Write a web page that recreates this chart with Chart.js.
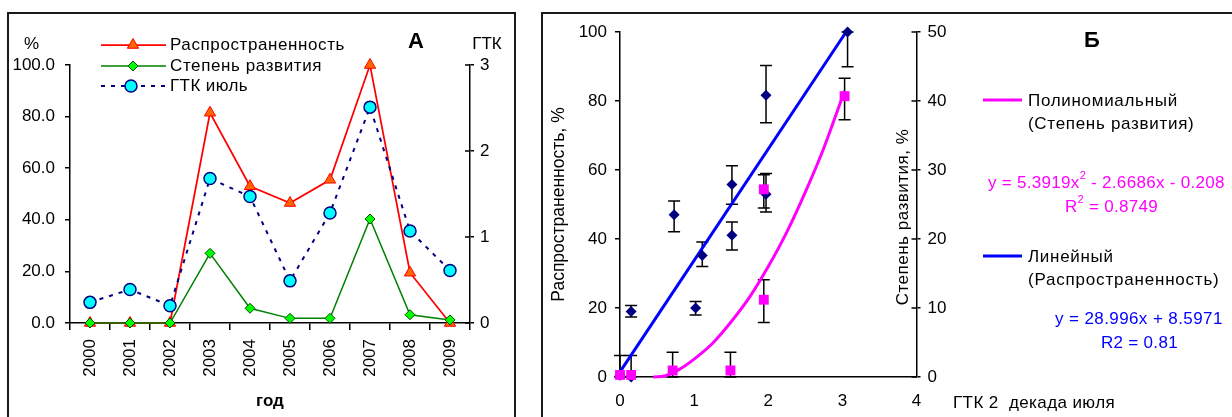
<!DOCTYPE html>
<html><head><meta charset="utf-8">
<script src="https://cdn.jsdelivr.net/npm/chart.js@4.4.0/dist/chart.umd.min.js"></script>
<style>
html,body{margin:0;padding:0;background:#fff;width:1232px;height:417px;overflow:hidden;}
.panel{position:absolute;border:2px solid #1a1a1a;box-sizing:border-box;}
#pa{left:7px;top:12px;width:509px;height:440px;}
#pb{left:541px;top:12px;width:720px;height:440px;}
#ca{position:absolute;left:0;top:0;width:530px;height:417px;}
#cb{position:absolute;left:530px;top:0;width:702px;height:417px;}
</style></head><body>
<div class="panel" id="pa"></div><div class="panel" id="pb"></div>
<canvas id="ca" width="530" height="417"></canvas>
<canvas id="cb" width="702" height="417"></canvas>
<script>
// ---------- Panel A data ----------
const years = ['2000','2001','2002','2003','2004','2005','2006','2007','2008','2009'];
const prevalence = [0, 0, 0, 81.5, 53, 46.5, 55.5, 100, 19.5, 0];
const severity = [0, 0, 0, 27, 5.7, 1.8, 1.8, 40.3, 3.2, 1.2];
const htcJuly = [0.24, 0.39, 0.2, 1.68, 1.47, 0.49, 1.28, 2.51, 1.07, 0.61];

// ---------- Panel B data ----------
const prevX  = [0, 0.15, 0.15, 0.73, 1.02, 1.11, 1.51, 1.51, 1.97, 1.97, 3.07];
const prevY  = [0.5, 0, 19, 47, 20, 35.2, 55.8, 41.1, 81.7, 53, 100];
const prevLo = [0, 0, 17.4, 42.1, 18, 32, 50.1, 36.8, 73.7, 47.8, 89.9];
const prevHi = [6.2, 6.2, 20.7, 51, 21.9, 39.1, 61.2, 44.9, 90.3, 59, 100];
const sevX  = [0, 0.15, 0.71, 1.49, 1.94, 1.94, 3.03];
const sevY  = [0.3, 0.3, 0.95, 0.95, 11.2, 27.2, 40.7];
const sevLo = [null, null, 0, 0, 7.9, 24.5, 37.3];
const sevHi = [null, null, 3.6, 3.6, 14.1, 29.3, 43.3];
const linTrendX = [0, 3.05];
const linTrendY = [1.5, 100];
const polyTrendX = [0.45, 0.6, 0.8, 1.0, 1.25, 1.5, 1.75, 2.0, 2.25, 2.5, 2.75, 3.03];
const polyTrendY = [0, 0.15, 1.1, 2.6, 4.9, 8.0, 11.6, 16.0, 21.0, 26.8, 33.2, 41.5];

const FONT = '"Liberation Sans", Arial, Helvetica, sans-serif';
Chart.defaults.font.family = FONT;
Chart.defaults.font.size = 17;
Chart.defaults.color = '#000';

function txt(ctx, s, x, y, o) {
  o = o || {};
  ctx.save();
  ctx.font = (o.bold ? 'bold ' : '') + (o.size || 17) + 'px ' + FONT;
  ctx.fillStyle = o.color || '#000';
  ctx.textAlign = o.align || 'left';
  ctx.textBaseline = 'middle';
  if ('letterSpacing' in ctx) ctx.letterSpacing = (o.ls || 0) + 'px';
  if (o.rot) { ctx.translate(x, y); ctx.rotate(o.rot); ctx.fillText(s, 0, 0); }
  else ctx.fillText(s, x, y);
  ctx.restore();
}
function supText(ctx, parts, x, y, color, ls) {
  ctx.save();
  if ('letterSpacing' in ctx) ctx.letterSpacing = (ls || 0) + 'px';
  let cx = x;
  parts.forEach(p => {
    ctx.font = (p[1] ? 11 : 17) + 'px ' + FONT;
    ctx.fillStyle = color; ctx.textAlign = 'left'; ctx.textBaseline = 'middle';
    ctx.fillText(p[0], cx, p[1] ? y - 7 : y);
    cx += ctx.measureText(p[0]).width;
  });
  ctx.restore();
}
function innerTicksOf(chart, id, len) {
  const s = chart.scales[id]; const ctx = chart.ctx;
  ctx.save(); ctx.strokeStyle = '#000'; ctx.lineWidth = 1.5;
  s.ticks.forEach(t => {
    const py = s.getPixelForValue(t.value);
    ctx.beginPath(); ctx.moveTo(s.left - len, py); ctx.lineTo(s.left, py); ctx.stroke();
  });
  ctx.restore();
}

// ---------- Chart A ----------
const decorA = {
  id: 'decorA',
  afterDraw(chart) {
    const ctx = chart.ctx;
    innerTicksOf(chart, 'y2', 5);
    txt(ctx, '%', 24, 44);
    txt(ctx, 'ГТК', 487, 44, {align: 'center'});
    txt(ctx, 'А', 416, 42, {bold: true, size: 22, align: 'center'});
    const lx1 = 101, lx2 = 166, mx = 133;
    ctx.save();
    ctx.lineWidth = 1.75; ctx.strokeStyle = '#FF0000';
    ctx.beginPath(); ctx.moveTo(lx1, 45); ctx.lineTo(lx2, 45); ctx.stroke();
    ctx.beginPath(); const r = 6.5;
    ctx.moveTo(mx, 45 - r); ctx.lineTo(mx + r * 0.866, 45 + r / 2); ctx.lineTo(mx - r * 0.866, 45 + r / 2); ctx.closePath();
    ctx.fillStyle = '#FF6600'; ctx.fill(); ctx.lineWidth = 1; ctx.stroke();
    ctx.lineWidth = 1.5; ctx.strokeStyle = '#008000';
    ctx.beginPath(); ctx.moveTo(lx1, 66); ctx.lineTo(lx2, 66); ctx.stroke();
    ctx.beginPath(); ctx.moveTo(mx, 61); ctx.lineTo(mx + 5, 66); ctx.lineTo(mx, 71); ctx.lineTo(mx - 5, 66); ctx.closePath();
    ctx.fillStyle = '#00FF00'; ctx.fill(); ctx.strokeStyle = '#004d00'; ctx.lineWidth = 1; ctx.stroke();
    ctx.lineWidth = 2; ctx.strokeStyle = '#000080'; ctx.setLineDash([4, 6]);
    ctx.beginPath(); ctx.moveTo(lx1, 86); ctx.lineTo(lx2, 86); ctx.stroke();
    ctx.setLineDash([]);
    ctx.beginPath(); ctx.arc(mx - 2, 86, 6, 0, Math.PI * 2);
    ctx.fillStyle = '#00FFFF'; ctx.fill(); ctx.lineWidth = 1.5; ctx.stroke();
    ctx.restore();
    txt(ctx, 'Распространенность', 170, 45, {ls: 0.6});
    txt(ctx, 'Степень развития', 170, 66, {ls: 0.6});
    txt(ctx, 'ГТК июль', 170, 86, {ls: 0.4});
  }
};

new Chart(document.getElementById('ca'), {
  type: 'line',
  data: {
    labels: years,
    datasets: [
      { label: 'Распространенность', data: prevalence, yAxisID: 'y', order: 2, clip: false,
        borderColor: '#FF0000', borderWidth: 1.75, pointStyle: 'triangle', pointRadius: 6.5,
        pointBackgroundColor: '#FF6600', pointBorderColor: '#FF0000', pointBorderWidth: 1, tension: 0 },
      { label: 'Степень развития', data: severity, yAxisID: 'y', order: 1, clip: false,
        borderColor: '#008000', borderWidth: 1.5, pointStyle: 'rectRot', pointRadius: 5,
        pointBackgroundColor: '#00FF00', pointBorderColor: '#004d00', pointBorderWidth: 1, tension: 0 },
      { label: 'ГТК июль', data: htcJuly, yAxisID: 'y2', order: 0, clip: false,
        borderColor: '#000080', borderWidth: 2, borderDash: [4, 6], pointStyle: 'circle', pointRadius: 6,
        pointBackgroundColor: '#00FFFF', pointBorderColor: '#000080', pointBorderWidth: 1.5, tension: 0 }
    ]
  },
  options: {
    responsive: false, animation: false, devicePixelRatio: 1,
    layout: { padding: { top: 65, left: 0, right: 0, bottom: 0 } },
    plugins: { legend: { display: false }, tooltip: { enabled: false } },
    scales: {
      x: {
        type: 'category', offset: true, position: 'bottom',
        afterFit(s) { s.height = 94; },
        grid: { offset: true, drawOnChartArea: false, drawTicks: true, tickLength: 7, color: '#000', lineWidth: 1.5 },
        border: { display: true, color: '#000', width: 1.5 },
        ticks: { minRotation: 90, maxRotation: 90, padding: 9, autoSkip: false, color: '#000', font: { size: 17 } },
        title: { display: true, text: 'год', font: { size: 17, weight: 'bold' }, color: '#000', padding: { top: 0, bottom: 5 } }
      },
      y: {
        position: 'left', min: 0, max: 100,
        afterFit(s) { s.width = 70; },
        grid: { drawOnChartArea: false, drawTicks: true, tickLength: 5, color: '#000', lineWidth: 1.5 },
        border: { display: true, color: '#000', width: 1.5 },
        ticks: { stepSize: 20, padding: 10, color: '#000', font: { size: 17 }, callback: v => Number(v).toFixed(1) }
      },
      y2: {
        position: 'right', min: 0, max: 3,
        afterFit(s) { s.width = 60; },
        grid: { drawOnChartArea: false, drawTicks: true, tickLength: 4, color: '#000', lineWidth: 1.5 },
        border: { display: true, color: '#000', width: 1.5 },
        ticks: { stepSize: 1, padding: 6, color: '#000', font: { size: 17 } }
      }
    }
  },
  plugins: [decorA]
});

// ---------- Chart B ----------
const decorB = {
  id: 'decorB',
  beforeDatasetsDraw(chart) {
    const {ctx, scales} = chart;
    const x = scales.x;
    ctx.save(); ctx.strokeStyle = '#000'; ctx.lineWidth = 1.5;
    const draw = (xs, lo, hi, ys) => {
      for (let i = 0; i < xs.length; i++) {
        if (lo[i] == null) continue;
        const px = x.getPixelForValue(xs[i]);
        const p1 = ys.getPixelForValue(lo[i]);
        const p2 = ys.getPixelForValue(hi[i]);
        ctx.beginPath();
        ctx.moveTo(px, p1); ctx.lineTo(px, p2);
        ctx.moveTo(px - 6, p1); ctx.lineTo(px + 6, p1);
        ctx.moveTo(px - 6, p2); ctx.lineTo(px + 6, p2);
        ctx.stroke();
      }
    };
    draw(prevX, prevLo, prevHi, scales.y);
    draw(sevX, sevLo, sevHi, scales.y2);
    ctx.restore();
  },
  afterDraw(chart) {
    const ctx = chart.ctx;
    innerTicksOf(chart, 'y2', 5);
    txt(ctx, 'Степень развития, %', 373, 217, {align: 'center', rot: -Math.PI / 2, ls: 0.5});
    txt(ctx, 'Б', 562, 41, {bold: true, size: 22, align: 'center'});
    txt(ctx, 'ГТК 2  декада июля', 423, 403, {ls: 0.4});
    ctx.save();
    ctx.lineWidth = 3;
    ctx.strokeStyle = '#FF00FF';
    ctx.beginPath(); ctx.moveTo(453, 100); ctx.lineTo(492, 100); ctx.stroke();
    ctx.strokeStyle = '#0000FF';
    ctx.beginPath(); ctx.moveTo(453, 256); ctx.lineTo(492, 256); ctx.stroke();
    ctx.restore();
    txt(ctx, 'Полиномиальный', 498, 101, {ls: 0.7});
    txt(ctx, '(Степень развития)', 498, 124, {ls: 0.7});
    supText(ctx, [['y = 5.3919x', false], ['2', true], [' - 2.6686x - 0.208', false]], 458, 183, '#FF00FF', 0.3);
    supText(ctx, [['R', false], ['2', true], [' = 0.8749', false]], 535, 207, '#FF00FF', 0.3);
    txt(ctx, 'Линейный', 498, 257, {ls: 0.7});
    txt(ctx, '(Распространенность)', 498, 280, {ls: 0.8});
    txt(ctx, 'y = 28.996x + 8.5971', 525, 319, {color: '#0000FF', ls: 0.4});
    txt(ctx, 'R2 = 0.81', 571, 343, {color: '#0000FF', ls: 0.3});
  }
};

const pts = (xs, ys) => xs.map((v, i) => ({ x: v, y: ys[i] }));

new Chart(document.getElementById('cb'), {
  type: 'scatter',
  data: {
    datasets: [
      { label: 'Степень развития', data: pts(sevX, sevY), yAxisID: 'y2', order: 0, clip: false,
        pointStyle: 'rect', pointRadius: 7, pointBackgroundColor: '#FF00FF', pointBorderColor: '#FF00FF', pointBorderWidth: 0, showLine: false },
      { label: 'Распространенность', data: pts(prevX, prevY), yAxisID: 'y', order: 1, clip: false,
        pointStyle: 'rectRot', pointRadius: 5.5, pointBackgroundColor: '#000080', pointBorderColor: '#000080', pointBorderWidth: 0, showLine: false },
      { label: 'Полиномиальный (Степень развития)', data: pts(polyTrendX, polyTrendY), yAxisID: 'y2', order: 2, clip: false,
        showLine: true, borderColor: '#FF00FF', borderWidth: 3, pointRadius: 0, cubicInterpolationMode: 'monotone' },
      { label: 'Линейный (Распространенность)', data: pts(linTrendX, linTrendY), yAxisID: 'y', order: 3, clip: false,
        showLine: true, borderColor: '#0000FF', borderWidth: 3, pointRadius: 0 }
    ]
  },
  options: {
    responsive: false, animation: false, devicePixelRatio: 1,
    layout: { padding: { top: 32, left: 0, right: 0, bottom: 0 } },
    plugins: { legend: { display: false }, tooltip: { enabled: false } },
    scales: {
      x: {
        type: 'linear', min: 0, max: 4, position: 'bottom',
        afterFit(s) { s.height = 40; },
        grid: { drawOnChartArea: false, drawTicks: false },
        border: { display: true, color: '#000', width: 1.5 },
        ticks: { stepSize: 1, padding: 14, color: '#000', font: { size: 17 } }
      },
      y: {
        position: 'left', min: 0, max: 100,
        afterFit(s) { s.width = 90; },
        grid: { drawOnChartArea: false, drawTicks: true, tickLength: 5, color: '#000', lineWidth: 1.5 },
        border: { display: true, color: '#000', width: 1.5 },
        ticks: { stepSize: 20, padding: 8, color: '#000', font: { size: 17 } },
        title: { display: true, text: 'Распространенность, %', color: '#000', font: { size: 17.5 }, padding: { top: 19, bottom: 0 } }
      },
      y2: {
        position: 'right', min: 0, max: 50,
        afterFit(s) { s.width = 315.5; },
        grid: { drawOnChartArea: false, drawTicks: true, tickLength: 4, color: '#000', lineWidth: 1.5 },
        border: { display: true, color: '#000', width: 1.5 },
        ticks: { stepSize: 10, padding: 7, color: '#000', font: { size: 17 } }
      }
    }
  },
  plugins: [decorB]
});
</script></body></html>
